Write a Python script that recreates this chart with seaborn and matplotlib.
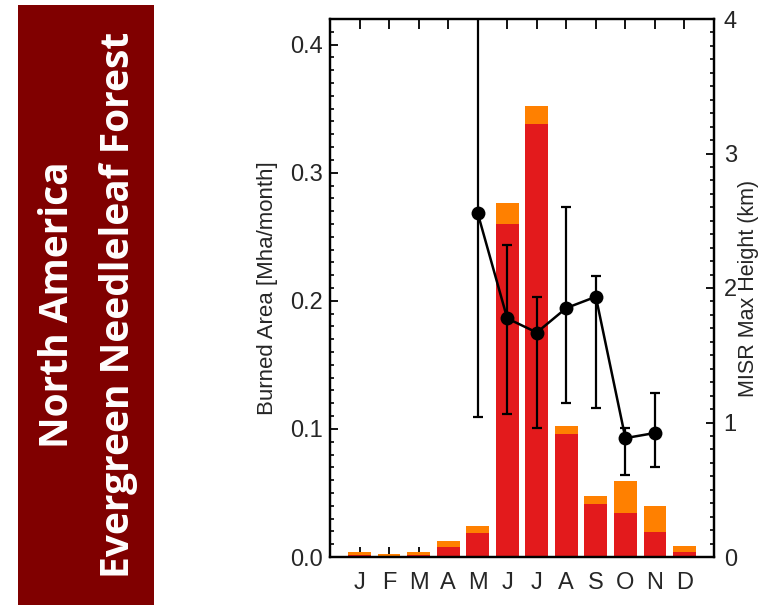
import numpy as np
import pandas as pd
import matplotlib
matplotlib.use("Agg")
import matplotlib.pyplot as plt
import seaborn as sns
from matplotlib.patches import Rectangle
from matplotlib.ticker import MultipleLocator, FixedLocator

# ---- data ----
months = ["J", "F", "M", "A", "M", "J", "J", "A", "S", "O", "N", "D"]
month_num = list(range(1, 13))
burned_red = [0.0013, 0.0008, 0.0013, 0.0079, 0.0186, 0.260, 0.338, 0.0962, 0.0416, 0.0345, 0.0196, 0.0037]
burned_orange = [0.0024, 0.0012, 0.0024, 0.0047, 0.0055, 0.0166, 0.014, 0.0063, 0.006, 0.0251, 0.0202, 0.0047]

height_months = [5, 6, 7, 8, 9, 10, 11]
height_mean = [2.557, 1.774, 1.669, 1.851, 1.935, 0.884, 0.922]
height_low = [1.04, 1.06, 0.96, 1.147, 1.11, 0.607, 0.67]
height_high = [4.1, 2.316, 1.933, 2.602, 2.092, 0.958, 1.22]

panel_title = ["North America", "Evergreen Needleleaf Forest"]
ylabel_left = "Burned Area [Mha/month]"
ylabel_right = "MISR Max Height (km)"

RED = "#E31A1C"
ORANGE = "#FF8000"
PANEL = "#800000"

sns.set_theme(style="white")
plt.rcParams["font.family"] = ["Liberation Sans", "DejaVu Sans"]

fig = plt.figure(figsize=(7.63, 6.09), dpi=100)
W, H = 763, 609
ax = fig.add_axes([330 / W, 1 - 557 / H, (714 - 330) / W, (557 - 19) / H])

df = pd.DataFrame({
    "month": month_num,
    "red": burned_red,
    "total": np.array(burned_red) + np.array(burned_orange),
})

sns.barplot(data=df, x="month", y="total", color=ORANGE, native_scale=True,
            width=0.77, ax=ax, saturation=1, linewidth=0)
sns.barplot(data=df, x="month", y="red", color=RED, native_scale=True,
            width=0.77, ax=ax, saturation=1, linewidth=0)

ax.set_xlim(0, 13)
ax.set_ylim(0, 0.42)
ax.set_axisbelow(True)
ax.xaxis.set_major_locator(FixedLocator(month_num))
ax.set_xticklabels(months, fontsize=17)
ax.yaxis.set_major_locator(MultipleLocator(0.1))
ax.yaxis.set_minor_locator(MultipleLocator(0.01))
ax.yaxis.set_major_formatter(matplotlib.ticker.FormatStrFormatter("%.1f"))
ax.tick_params(axis="x", which="major", direction="in", top=True, bottom=True,
               length=7, width=1.3, color="black", pad=11, labelsize=17)
ax.tick_params(axis="y", which="major", direction="in", left=True, right=True,
               length=6, width=1.3, color="black", pad=5, labelsize=17)
ax.tick_params(axis="y", which="minor", direction="in", left=True, right=True,
               length=3, width=1.2, color="black")
ax.set_xlabel("")
ax.set_ylabel(ylabel_left, fontsize=16, labelpad=9)
for s in ax.spines.values():
    s.set_visible(True)
    s.set_color("black")
    s.set_linewidth(1.6)

ax2 = ax.twinx()
hdf = pd.DataFrame({"month": height_months, "height": height_mean})
mean = np.array(height_mean)
yerr = np.vstack([mean - np.array(height_low), np.array(height_high) - mean])
ax2.errorbar(height_months, height_mean, yerr=yerr, fmt="none", ecolor="black",
             elinewidth=1.6, capsize=3.5, capthick=1.6, zorder=3)
sns.lineplot(data=hdf, x="month", y="height", color="black", linewidth=1.8,
             marker="o", markersize=10, markeredgewidth=0, ax=ax2, zorder=4)
ax2.set_ylim(0, 4.0)
ax2.set_xlim(0, 13)
ax2.yaxis.set_major_locator(MultipleLocator(1))
ax2.yaxis.set_minor_locator(MultipleLocator(0.1))
ax2.tick_params(axis="y", which="major", direction="in", right=True, length=6,
                width=1.3, color="black", pad=7, labelsize=17)
ax2.tick_params(axis="y", which="minor", direction="in", right=True, length=3,
                width=1.2, color="black")
ax2.tick_params(axis="x", which="both", bottom=False, top=False, labelbottom=False)
ax2.set_xlabel("")
ax2.set_ylabel(ylabel_right, fontsize=15.5, labelpad=1)
for s in ax2.spines.values():
    s.set_color("black")
    s.set_linewidth(1.6)

# left title panel
fig.patches.append(Rectangle((18 / W, 1 - 605 / H), 136 / W, 600 / H,
                             transform=fig.transFigure, facecolor=PANEL,
                             edgecolor="none", zorder=0))
fig.text(57 / W, 0.5, panel_title[0], rotation=90, color="white",
         fontsize=28, fontweight="bold", family=["Open Sans", "DejaVu Sans"],
         ha="center", va="center")
fig.text(118 / W, 0.5, panel_title[1], rotation=90, color="white",
         fontsize=28, fontweight="bold", family=["Open Sans", "DejaVu Sans"],
         ha="center", va="center")

fig.savefig("out.png", dpi=100)
